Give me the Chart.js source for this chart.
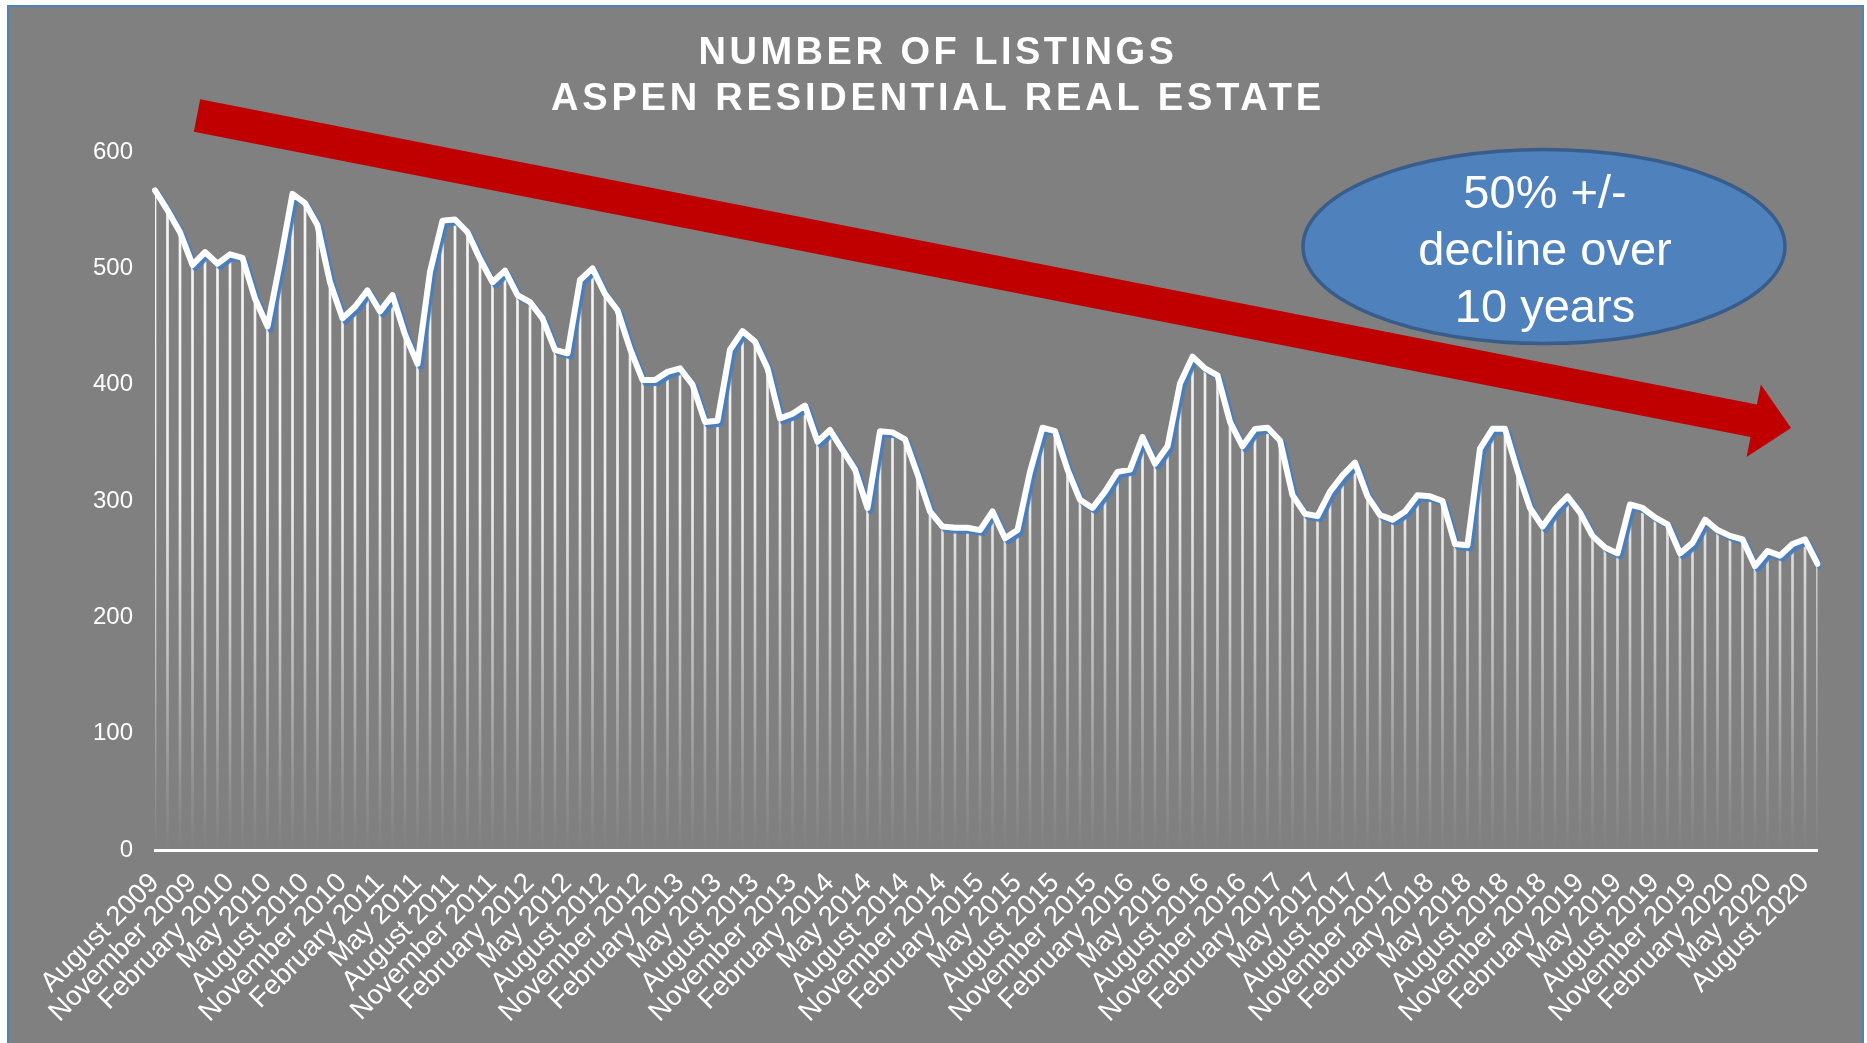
<!DOCTYPE html>
<html><head><meta charset="utf-8">
<script src="https://cdn.jsdelivr.net/npm/chart.js@4"></script>
<style>html,body{margin:0;padding:0;background:#fff;overflow:hidden}#wrap{width:1867px;height:1043px}</style>
</head><body><div id="wrap"><canvas id="c" width="1867" height="1043"></canvas></div>
<script>
// ---- data ----
const titleLines = ['NUMBER OF LISTINGS', 'ASPEN RESIDENTIAL REAL ESTATE'];
const calloutLines = ['50% +/-', 'decline over', '10 years'];
const monthNames = ['January','February','March','April','May','June','July','August','September','October','November','December'];
const startYear = 2009;
const startMonthIndex = 7; // August
const listings = [
  567,550,531,503,514,504,512,509,474,450,505,564,
  556,537,488,457,467,481,463,477,443,418,497,541,
  542,531,508,488,498,477,471,457,430,427,490,500,
  478,464,431,404,404,411,414,400,368,369,430,446,
  437,414,371,375,382,351,361,344,327,294,360,359,
  353,323,291,278,277,277,275,291,268,275,325,363,
  360,327,301,294,308,325,327,355,332,347,401,424,
  414,408,368,347,362,363,352,305,289,287,308,322,
  333,304,288,284,291,305,304,300,263,262,345,362,
  362,326,294,278,293,304,290,270,260,255,297,294,
  286,280,255,264,284,275,270,267,244,257,253,263,
  267,246
];
const yTicks = [0,100,200,300,400,500,600];
const labelEvery = 3;
const categories = listings.map((_, i) => {
  const k = startMonthIndex + i;
  return monthNames[k % 12] + ' ' + (startYear + Math.floor(k / 12));
});

const FONT = '"Liberation Sans", Arial, sans-serif';

const panelPlugin = {
  id: 'panel',
  beforeDraw(chart) {
    const c = chart.ctx;
    c.save();
    c.fillStyle = '#ffffff';
    c.fillRect(0, 0, chart.width, chart.height);
    c.fillStyle = '#808080';
    c.fillRect(8, 6, 1855, 1045);
    c.strokeStyle = '#4f81bd';
    c.lineWidth = 2;
    c.strokeRect(8, 6, 1855, 1045);
    c.restore();
  }
};

const shadowPlugin = {
  id: 'lineShadow',
  beforeDatasetDraw(chart, args) {
    if (args.index === 0) {
      const c = chart.ctx;
      c.save();
      c.shadowColor = '#4a7ebb';
      c.shadowOffsetX = 3;
      c.shadowOffsetY = 3;
      c.shadowBlur = 1;
    }
  },
  afterDatasetDraw(chart, args) {
    if (args.index === 0) chart.ctx.restore();
  }
};

const overlayPlugin = {
  id: 'overlay',
  afterDraw(chart) {
    const c = chart.ctx;
    c.save();
    // title
    c.fillStyle = '#ffffff';
    c.font = 'bold 38px ' + FONT;
    c.textAlign = 'center';
    c.textBaseline = 'alphabetic';
    c.letterSpacing = '3.5px';
    c.fillText(titleLines[0], 938, 64);
    c.letterSpacing = '3.8px';
    c.fillText(titleLines[1], 938, 110);
    c.letterSpacing = '0px';
    // trend arrow
    const S = [197, 115.5], T = [1791, 428];
    const L = Math.hypot(T[0]-S[0], T[1]-S[1]);
    const u = [(T[0]-S[0])/L, (T[1]-S[1])/L];
    const n = [-u[1], u[0]];
    const hl = 38, hw = 37, sw = 16.5;
    const B = [T[0]-hl*u[0], T[1]-hl*u[1]];
    const pt = (P, k) => [P[0]+k*n[0], P[1]+k*n[1]];
    const poly = [pt(S,-sw), pt(B,-sw), pt(B,-hw), T, pt(B,hw), pt(B,sw), pt(S,sw)];
    c.beginPath();
    poly.forEach((p, i) => i ? c.lineTo(p[0], p[1]) : c.moveTo(p[0], p[1]));
    c.closePath();
    c.fillStyle = '#c00000';
    c.fill();
    // callout ellipse
    c.beginPath();
    c.ellipse(1544, 246.5, 241, 97, 0, 0, Math.PI*2);
    c.fillStyle = '#4f81bd';
    c.fill();
    c.lineWidth = 3.5;
    c.strokeStyle = '#385d8a';
    c.stroke();
    c.fillStyle = '#ffffff';
    c.font = '47px ' + FONT;
    c.textAlign = 'center';
    c.fillText(calloutLines[0], 1545, 208);
    c.fillText(calloutLines[1], 1545, 265);
    c.fillText(calloutLines[2], 1545, 322);
    c.restore();
  }
};

function dropGradient(ctx) {
  const chart = ctx.chart;
  const a = chart.chartArea;
  if (!a) return 'rgba(255,255,255,0.85)';
  const g = chart.ctx.createLinearGradient(0, a.top, 0, a.bottom);
  g.addColorStop(0, 'rgba(255,255,255,0.95)');
  g.addColorStop(0.5, 'rgba(255,255,255,0.85)');
  g.addColorStop(0.72, 'rgba(255,255,255,0.5)');
  g.addColorStop(0.9, 'rgba(255,255,255,0.15)');
  g.addColorStop(1, 'rgba(255,255,255,0.0)');
  return g;
}

new Chart(document.getElementById('c'), {
  type: 'bar',
  data: {
    labels: categories,
    datasets: [
      {
        type: 'line',
        data: listings,
        borderColor: '#ffffff',
        borderWidth: 6,
        pointRadius: 0,
        tension: 0,
        borderJoinStyle: 'round',
        borderCapStyle: 'round',
        order: 0
      },
      {
        type: 'bar',
        data: listings,
        backgroundColor: dropGradient,
        barThickness: 2,
        order: 1
      }
    ]
  },
  options: {
    responsive: false,
    animation: false,
    devicePixelRatio: 1,
    layout: { padding: { left: 0, right: 49.5, top: 152, bottom: 0 } },
    plugins: { legend: { display: false }, tooltip: { enabled: false }, title: { display: false } },
    scales: {
      x: {
        offset: false,
        grid: { display: false, drawTicks: false },
        border: { display: true, color: '#ffffff', width: 3 },
        ticks: {
          color: '#ffffff',
          font: { family: FONT, size: 27.5 },
          maxRotation: 45,
          minRotation: 45,
          autoSkip: false,
          padding: 17,
          callback: function(v, i) { return i % labelEvery === 0 ? categories[i] : ''; }
        },
        afterFit: (s) => { s.height = 193; }
      },
      y: {
        min: 0,
        max: 600,
        grid: { display: false, drawTicks: false },
        border: { display: false },
        afterBuildTicks: (s) => { s.ticks = yTicks.map(v => ({ value: v })); },
        ticks: { color: '#ffffff', font: { family: FONT, size: 24 }, padding: 22 },
        afterFit: (s) => { s.width = 155; }
      }
    }
  },
  plugins: [panelPlugin, shadowPlugin, overlayPlugin]
});
</script>
</body></html>
